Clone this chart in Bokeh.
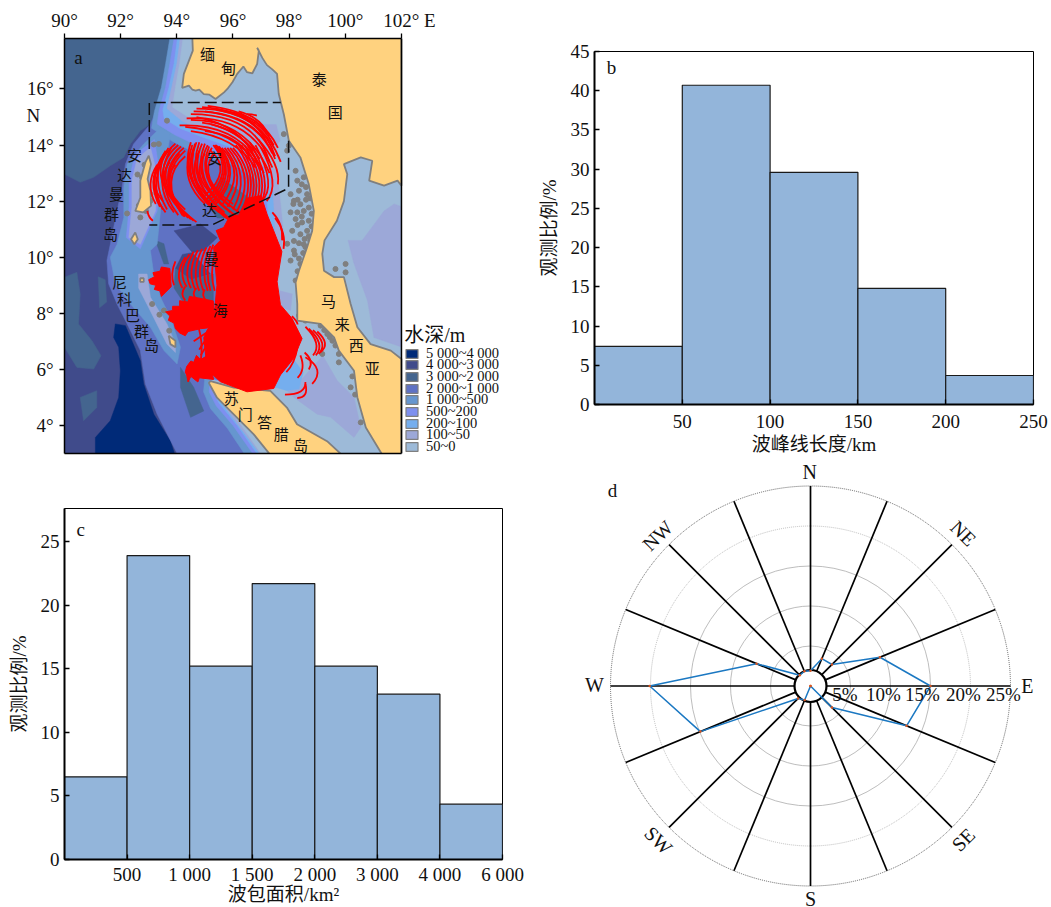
import math
from bokeh.plotting import figure
from bokeh.layouts import row, column
from bokeh.models import Range1d, FixedTicker, Label, Legend, LegendItem, Span, LinearAxis, BoxAnnotation
from bokeh.embed import file_html
from bokeh.resources import INLINE
from bokeh.core.properties import value

SERIF = "Liberation Serif, Noto Sans CJK SC"
CJK = "Noto Sans CJK SC"

# ---------- panel b
b_edges = [0, 50, 100, 150, 200, 250]
b_values = [7.4, 40.7, 29.6, 14.8, 3.7]
# ---------- panel c
c_labels = ["500", "1 000", "1 500", "2 000", "3 000", "4 000", "6 000"]
c_values = [6.5, 23.9, 15.2, 21.7, 15.2, 13.0, 4.35]
# ---------- panel d
rose_dirs = [0, 22.5, 45, 67.5, 90, 112.5, 135, 157.5, 180, 202.5, 225, 247.5, 270, 292.5, 315, 337.5]
rose_vals = [1.9, 3.7, 3.8, 9.4, 15.0, 13.0, 3.8, 0, 0, 1.9, 2.2, 14.9, 20.1, 7.3, 1.9, 2.0]
rose_rings = [5, 10, 15, 20, 25]
# ---------- panel a
depth_labels = ["5 000~4 000", "4 000~3 000", "3 000~2 000", "2 000~1 000", "1 000~500",
                "500~200", "200~100", "100~50", "50~0"]
depth_colors = ["#002A78", "#404B8B", "#44658F", "#5F72C4", "#6696CF", "#7E90EF", "#75AEEE", "#9CA8D8", "#9DBAD8"]
C5000, C4000, C3000, C2000, C1000, C500, C200, C100, C50 = depth_colors
LAND = "#FFD27F"
COAST = "#7F7F7F"

nw_deep = [(90, 17.8), (93.83, 17.8), (93.77, 17.37), (93.54, 16.54), (93.42, 15.58), (93.06, 14.75), (92.7, 14.51),
           (92.35, 14.04), (92.11, 13.56), (91.63, 13.26), (91.04, 12.85), (90.56, 12.67), (90, 12.96)]
w_blob1 = [(90, 9.29), (90.44, 9.46), (90.56, 8.69), (90.5, 7.62), (90.98, 7.02), (91.3, 6.49), (91.04, 6.01),
           (90.44, 6.07), (90, 6.79)]
w_blob2 = [(90.56, 5.0), (91.15, 5.24), (91.15, 4.64), (90.68, 4.17)]
w_blob3 = [(91.2, 9.3), (91.45, 9.2), (91.5, 8.4), (91.25, 8.2)]
trench = [(91.81, 7.62), (92.17, 7.56), (92.4, 7.02), (92.7, 6.31), (92.82, 5.48), (93.18, 4.4), (93.77, 3.45),
          (93.95, 2.9), (91.1, 2.9), (91.1, 3.57), (91.63, 4.17), (91.93, 5.0), (91.99, 5.95), (91.93, 6.79), (91.75, 7.14)]
ridge = [(93.42, 15.58), (93.06, 14.75), (92.46, 14.04), (92.17, 13.32), (92.05, 12.49), (91.87, 11.65), (91.63, 10.46),
         (91.51, 9.88), (91.57, 9.05), (91.87, 8.33), (92.23, 7.62), (92.7, 6.67), (92.88, 5.48), (93.3, 4.4),
         (94.01, 3.0), (102, 3), (102, 17.8), (93.83, 17.8)]
band1000 = [(93.75, 17.8), (93.6, 16.9), (93.45, 16.06), (93.2, 15.2), (93.1, 14.6), (93.9, 14.1), (94.9, 13.6), (96, 13.3),
            (96.8, 12.8), (96.9, 11), (96.8, 9), (96.9, 7.5), (97.2, 6.1), (96.6, 5.4), (95.4, 5.5), (95.0, 5.75), (94.95, 5.2),
            (95.2, 4.6), (95.8, 3.9), (96.4, 3), (102, 3), (102, 17.8)]
band500 = [(93.9, 17.8), (93.75, 16.9), (93.6, 16.06), (93.36, 15.2), (93.3, 14.75), (93.95, 14.35), (94.9, 13.9), (96, 13.6),
           (97, 13), (97.1, 11), (97, 9), (97.1, 7.5), (97.4, 6.2), (96.6, 5.55), (95.45, 5.6), (95.2, 5.7), (95.15, 5.2),
           (95.4, 4.7), (96, 4), (96.7, 3), (102, 3), (102, 17.8)]
band200 = [(94.02, 17.8), (93.9, 16.9), (93.72, 16.06), (93.5, 15.25), (93.55, 14.95), (94.1, 14.6), (95, 14.25), (96, 13.9),
           (97.1, 13.3), (97.3, 11), (97.2, 9), (97.3, 7.5), (97.55, 6.5), (97.4, 5.5), (96.4, 5.5), (95.3, 5.62), (95.25, 5.3),
           (95.5, 4.8), (96.15, 4), (96.85, 3), (102, 3), (102, 17.8)]
band100 = [(94.12, 17.8), (94, 16.9), (93.82, 16.06), (93.65, 15.3), (94.2, 14.85), (95, 14.5), (96.2, 14.2), (96.6, 13.6),
           (97.4, 13), (97.5, 11), (97.4, 9), (97.5, 7.5), (97.7, 6.6), (97.6, 5.4), (96.4, 5.4), (95.3, 5.6), (95.35, 5.2),
           (95.6, 4.8), (96.2, 4), (96.95, 3), (102, 3), (102, 17.8)]
band50 = [(94.22, 17.8), (94.1, 16.9), (93.95, 16.06), (93.85, 15.35), (94.4, 15), (95, 14.75), (96.4, 14.6), (96.95, 14.75),
          (97.55, 14.75), (97.7, 14.15), (97.2, 13.55), (97.6, 13), (97.8, 11), (97.6, 9), (97.7, 7.5), (97.9, 6.7), (97.9, 5.35),
          (97.3, 5.3), (96, 5.45), (95.25, 5.62), (95.4, 5.2), (95.7, 4.8), (96.3, 4), (97, 3), (102, 3), (102, 17.8)]
gulf100 = [(100.1, 10.6), (100.6, 10.6), (101.38, 11.65), (101.74, 11.9), (102, 11.8), (102, 6.8), (101.02, 7.14), (100.79, 8.45), (100.3, 9.8)]
malacca100 = [(98.4, 5.6), (99.2, 6.49), (99.71, 5.6), (100.31, 5.0), (100.55, 3.93), (100.31, 3.57), (99.48, 4.29), (99, 4.4),
              (98.17, 5), (97.93, 5.24)]
patch100 = [(97.63, 8.81), (98.11, 8.69), (98.05, 8.1), (97.75, 8.2)]
patch200 = [(98.2, 6.3), (98.5, 5.9), (98.35, 5.3), (97.9, 5.25), (97.4, 5.4), (97.4, 6.3)]
chain1000 = [(93.42, 14.63), (92.82, 14.04), (92.23, 13.32), (92.11, 12.49), (92.11, 11.42), (91.87, 10.46), (91.63, 10.0),
             (91.81, 9.05), (92.35, 8.33), (93.06, 7.5), (93.54, 6.67), (94.01, 6.19), (94.13, 6.79), (93.77, 7.86), (93.42, 8.57),
             (93.18, 9.4), (93.06, 10.24), (93.3, 10.46), (93.42, 11.65), (93.54, 12.96), (93.77, 14.39)]
chain200 = [(93.2, 14.2), (92.5, 13.65), (92.3, 12.73), (92.3, 11.77), (92.2, 10.7), (92.7, 10.3), (93.3, 11.65), (93.4, 12.96)]
chain50 = [(93.06, 13.92), (92.58, 13.5), (92.4, 12.73), (92.4, 11.77), (92.29, 10.7), (92.7, 10.46), (93.24, 11.65), (93.3, 12.96)]
nicobar100 = [(92.64, 9.4), (92.94, 9.4), (93.06, 8.57), (93.65, 7.62), (93.95, 6.9), (93.95, 6.6), (93.65, 6.9), (93, 8.2), (92.64, 8.9)]
strip3000a = [(94.13, 6.07), (94.6, 5.36), (94.96, 4.52), (94.49, 4.29), (94.13, 5.36)]
strip3000b = [(93.24, 10.6), (93.54, 10.48), (93.71, 9.76), (93.54, 9.76)]
basin3000 = [(95.56, 12.85), (96.87, 11.9), (96.87, 11.4), (95.44, 11.4), (95, 12)]
basin4000 = [(93.9, 10.94), (94.85, 11.18), (95.44, 10.7), (94.96, 10.24), (94.2, 10.1), (93.95, 9.6), (94.5, 9.2), (95.2, 9.4)]
basin3000b = [(93.95, 9.6), (94.5, 9.2), (95.3, 9.4), (95.3, 7.5), (94.3, 8.3), (93.9, 8.9)]
land_main = [(94.55, 17.9), (94.57, 17.37), (94.25, 16.54), (94.19, 16.04), (94.43, 16.12), (94.55, 15.98), (94.67, 15.94), (94.8, 15.98), (94.96, 15.82),
             (95.15, 15.8), (95.38, 15.64), (95.68, 15.88), (95.8, 16.0), (95.98, 16.24), (96.15, 16.54), (96.37, 16.8), (96.5, 16.6), (96.69, 16.56),
             (96.86, 16.89), (96.92, 17.37), (96.86, 17.47), (97.05, 17.1), (97.21, 16.85), (97.4, 16.7), (97.57, 16.54), (97.63, 15.82), (97.81, 15.1),
             (97.99, 14.15), (98.4, 13.56), (98.7, 12.6), (98.88, 11.65), (98.82, 10.94), (98.64, 10.36), (98.35, 9.52),
             (98.23, 9.1), (98.29, 8.33), (98.29, 7.74), (99.12, 7.62), (99.6, 7.14), (99.77, 6.67), (100.31, 5.95), (100.43, 5.0),
             (100.73, 3.93), (101.32, 2.95), (102, 2.95), (102, 6.37), (101.62, 6.67), (100.9, 6.9), (100.43, 7.5),
             (100.19, 8.33), (99.95, 9.29), (99.6, 9.29), (99.24, 9.52), (99.18, 10.12), (99.26, 10.6), (99.7, 11.3), (99.95, 12.0),
             (100.07, 12.96), (99.95, 13.32), (100.55, 13.56), (100.96, 13.44), (100.85, 12.73), (101.38, 12.55), (101.86, 12.73),
             (102, 12.55), (102, 17.9)]
land_sumatra = [(95.2, 5.58), (96.03, 5.35), (97.33, 5.23), (97.92, 4.64), (98.28, 4.04), (99.35, 3.44), (99.88, 2.95), (97.33, 2.95),
                (96.74, 3.68), (95.43, 4.99), (95.14, 5.52)]
land_andaman = [(93, 13.62), (93.08, 13.32), (92.96, 12.79), (93.06, 12.37), (93.08, 11.83), (92.8, 11.6), (92.52, 11.65), (92.7, 12.13),
                (92.7, 12.73), (92.88, 13.38)]
land_little = [(92.52, 10.88), (92.61, 10.64), (92.49, 10.46), (92.37, 10.64)]
land_nicobar = [(93.71, 7.2), (93.95, 7.02), (93.95, 6.79), (93.77, 6.9)]
land_car = [(92.7, 9.25), (92.82, 9.25), (92.82, 9.12), (92.7, 9.12)]
islet_lon = [97.81, 97.99, 97.93, 98.23, 98.29, 98.52, 98.35, 98.05, 98.64, 98.17, 98.4, 98.7, 98.05, 98.29, 98.52, 98.23, 98.46, 98.7,
             98.11, 98.4, 98.64, 98.17, 98.52, 97.93, 98.17, 98.58, 98.05, 98.4, 98.23, 98.46, 98.35, 98.64, 98.58, 99.12, 99.36, 99.54,
             99.77, 99.77, 99.18, 100.19, 100.55, 100.01, 100.01, 99.65, 92.76, 93.06, 92.23, 93.65, 93.36, 93.18, 92.7, 93.06,
             93.12, 93.38, 93.54, 93.73,
             98.45, 98.6, 98.75, 98.3, 98.15, 98.6, 98.45, 98.3, 98.8, 98.55, 98.35, 98.7, 98.2, 98.5, 98.35, 98.65, 98.3, 98.5, 98.42, 98.55,
             98.75, 98.8, 99.25, 99.45, 99.65, 100.25, 100.35, 92.85, 92.95, 92.6, 92.65, 92.9]
islet_lat = [14.39, 13.98, 13.8, 13.08, 12.73, 12.85, 12.37, 12.25, 12.25, 12.01, 11.89, 11.77, 11.6, 11.6, 11.65, 11.36, 11.24, 11.3,
             10.94, 10.82, 10.94, 10.58, 10.46, 10.48, 10.24, 10.36, 9.88, 9.76, 9.17, 8.1, 7.92, 8.1, 7.74, 7.56, 7.26, 7.02,
             6.55, 6.25, 6.55, 5.36, 4.11, 9.76, 9.46, 9.58, 12.85, 12.01, 11.56, 14.87, 14.04, 14.02, 11.42, 12.25,
             8.33, 7.95, 8.1, 7.38,
             12.6, 12.5, 12.1, 12.05, 11.9, 12.05, 11.45, 11.15, 11.1, 10.65, 10.5, 10.75, 10.1, 10.15, 9.95, 10.0, 9.5, 9.6, 7.85, 7.95,
             10.6, 11.55, 7.4, 7.15, 6.85, 5.75, 5.1, 13.3, 12.45, 12.95, 11.85, 11.65]
box_a = [(93.02, 13.86), (93.02, 15.52), (97.7, 15.52)]
box_b = [(97.98, 14.15), (97.98, 12.46), (95.25, 11.15), (93.02, 11.15)]
red_main = [(97.45, 10.94), (97.21, 11.54), (97, 12.2), (96.5, 12.1), (96.2, 11.5), (95.9, 11.5), (95.67, 11.06), (95.4, 10.95), (95.55, 10.6), (95.31, 10.35), (95.43, 9.0),
            (95.31, 7.7), (95.08, 7.4), (94.96, 7.13), (95.08, 6.0), (95.55, 5.56), (96.5, 5.2), (97.45, 5.32), (97.69, 5.8),
            (98.16, 6.39), (98.46, 7.1), (98.1, 7.82), (97.69, 8.3), (97.57, 9.13), (97.74, 10.2)]
red_lobe_a = [(93.0, 9.2), (93.2, 9.3), (93.15, 9.45), (93.4, 9.5), (93.45, 9.65), (93.75, 9.6), (93.8, 8.95), (93.6, 8.75), (93.45, 8.6),
              (93.4, 8.8), (93.2, 8.85), (93.25, 9.0), (93.05, 9.05)]
red_lobe_c = [(93.6, 8.05), (93.85, 8.1), (93.85, 8.25), (94.1, 8.25), (94.1, 8.45), (94.4, 8.4), (94.45, 8.6), (94.75, 8.55), (95.3, 8.44),
              (95.31, 7.5), (94.84, 7.45), (94.4, 7.35), (94.3, 7.2), (94.1, 7.3), (93.95, 7.45), (93.9, 7.65), (93.7, 7.75), (93.75, 7.9)]
red_lobe_d = [(94.35, 6.1), (94.5, 6.3), (94.6, 6.25), (94.7, 6.5), (94.85, 6.35), (95.1, 6.5), (95.31, 5.64), (94.8, 5.7), (94.75, 5.55),
              (94.5, 5.75), (94.4, 5.55), (94.35, 5.8), (94.3, 5.9)]
red_arcs = [
    (93.95, 14.05, 92.6, 12.9, 94.7, 11.25), (94.05, 14.0, 92.75, 12.9, 94.6, 11.3), (94.15, 13.95, 92.9, 12.9, 94.5, 11.35),
    (94.25, 13.9, 93.05, 12.9, 94.4, 11.4), (94.3, 13.8, 93.2, 12.8, 94.3, 11.45), (94.3, 13.6, 93.35, 12.8, 94.2, 11.5),
    (93.6, 13.8, 92.8, 12.6, 93.6, 11.6), (93.7, 13.9, 92.95, 12.7, 93.5, 11.7), (93.8, 13.9, 93.1, 12.6, 93.9, 11.6),
    (93.3, 13.3, 92.85, 12.6, 93.25, 11.9), (93.35, 13.2, 93.0, 12.6, 93.5, 12.0), (92.95, 11.65, 93.0, 11.4, 93.15, 11.3),
    (93.45, 13.5, 92.9, 12.7, 93.4, 11.8), (93.55, 13.7, 93.05, 12.8, 93.65, 11.7), (93.9, 13.7, 93.15, 12.7, 94.05, 11.5),
    (94.1, 13.7, 93.25, 12.8, 94.25, 11.45), (93.75, 13.4, 93.2, 12.7, 94.1, 11.7), (93.95, 13.3, 93.3, 12.6, 94.3, 11.7),
    (94.5, 14.1, 94.0, 12.6, 95.7, 11.5), (94.7, 14.1, 94.1, 12.6, 95.9, 11.3), (94.9, 14.05, 94.25, 12.6, 96.1, 11.2),
    (95.1, 14.0, 94.4, 12.7, 96.2, 11.4), (95.25, 13.9, 94.55, 12.8, 96.2, 11.6), (95.3, 13.7, 94.7, 12.8, 96, 11.9),
    (94.6, 13.9, 94.2, 12.8, 95.1, 12), (94.8, 13.8, 94.3, 12.8, 95.2, 12.1), (95, 13.7, 94.5, 12.9, 95.3, 12.2),
    (94.55, 14.0, 94.1, 12.8, 95.3, 11.7), (94.65, 14.05, 94.2, 12.7, 95.5, 11.6), (94.8, 14.1, 94.3, 12.7, 95.7, 11.6),
    (95.0, 14.05, 94.45, 12.7, 95.9, 11.6), (95.15, 13.95, 94.65, 12.75, 95.9, 11.8), (94.45, 13.7, 94.15, 12.7, 95.0, 11.9),
    (95.3, 14, 96.1, 13, 95.0, 12), (95.4, 14, 96.2, 13, 95.2, 11.9), (95.5, 13.95, 96.35, 13, 95.4, 11.9), (95.6, 13.9, 96.5, 13, 95.6, 11.85),
    (95.2, 13.8, 96.0, 13.1, 95, 12.2), (95.8, 13.9, 96.65, 12.9, 96, 11.7), (96, 13.9, 96.9, 12.9, 96.3, 11.6), (96.2, 14, 97.1, 12.8, 96.5, 11.6),
    (96.4, 14, 97.3, 12.7, 96.7, 11.7), (96.6, 14.1, 97.5, 12.6, 96.9, 11.8), (96.8, 14, 97.6, 12.5, 97, 12), (97.0, 13.9, 97.7, 12.6, 97.2, 12.0),
    (96.9, 14.2, 97.7, 13.3, 97.6, 12.6), (95.35, 14, 96.15, 13, 95.1, 11.95), (95.45, 13.95, 96.3, 13, 95.3, 11.9), (95.7, 13.9, 96.55, 12.9, 95.8, 11.8),
    (95.9, 13.9, 96.8, 12.9, 96.15, 11.65), (96.1, 14, 97.0, 12.85, 96.4, 11.6), (96.3, 14, 97.2, 12.75, 96.6, 11.65), (96.5, 14.05, 97.4, 12.65, 96.8, 11.75),
    (94.7, 15.3, 97.0, 15.3, 97.7, 13.4), (94.9, 15.35, 97.0, 15.2, 97.5, 13.6), (95.1, 15.4, 97.0, 15.2, 97.6, 13.9), (94.5, 15.1, 96.8, 15.1, 97.3, 13.4),
    (94.35, 14.95, 96.6, 15.1, 97.4, 13.2), (94.5, 14.9, 96.5, 14.9, 97.3, 13.0), (94.1, 14.7, 96.3, 14.8, 97.1, 13.0), (94.3, 14.65, 96.2, 14.5, 97, 13.1),
    (94.7, 15, 96.4, 14.7, 96.9, 13.3), (94.5, 14.5, 96.1, 14.3, 96.8, 13.2), (95.0, 14.5, 96.1, 14.4, 96.6, 13.6), (95.8, 15.2, 96.9, 15, 97.2, 14.4),
    (96.2, 15.2, 97, 15, 97.3, 14.3), (96.5, 15.1, 96.7, 15.1, 96.85, 15.05), (94.6, 15.2, 96.9, 15.2, 97.5, 13.5), (95.0, 15.2, 96.8, 15.0, 97.4, 13.7),
    (95.3, 15.3, 96.9, 15.1, 97.45, 14.0), (95.5, 15.25, 96.8, 15.0, 97.2, 14.1), (94.9, 14.8, 96.3, 14.6, 96.95, 13.5), (95.2, 14.75, 96.2, 14.5, 96.7, 13.8),
    (94.3, 10, 93.9, 9.4, 94.2, 8.9), (94.6, 10.2, 94.2, 9.5, 94.5, 8.9), (94.9, 10.3, 94.5, 9.5, 94.8, 8.8), (95.2, 10.4, 94.8, 9.6, 95.1, 8.8),
    (94.45, 10.1, 94, 9.5, 94.35, 8.95), (94.75, 10.25, 94.35, 9.5, 94.65, 8.85), (95.05, 10.35, 94.65, 9.5, 94.95, 8.8),
    (95.3, 10.45, 94.95, 9.6, 95.2, 8.8), (95.5, 10.5, 95.1, 9.6, 95.35, 8.8), (93.95, 9.85, 93.75, 9.4, 93.9, 9.0),
    (94.3, 8.95, 94.1, 8.7, 94.3, 8.45), (94.7, 8.9, 94.5, 8.7, 94.7, 8.5), (95.0, 8.85, 94.85, 8.65, 95.05, 8.45),
    (94.5, 8.2, 95, 7.2, 94.85, 6.3), (97.4, 11.6, 97.8, 11.2, 97.75, 10.6), (97.5, 11.4, 97.9, 10.9, 97.8, 10.3),
    (95.2, 7.4, 94.9, 7.2, 94.6, 7.0), (95.2, 7.2, 94.95, 7.0, 94.8, 6.7), (95.2, 7.0, 95.0, 6.8, 94.85, 6.5),
    (98.58, 7.52, 99.2, 6.9, 98.85, 6.5), (98.7, 7.45, 99.3, 6.9, 98.95, 6.5), (98.85, 7.4, 99.4, 6.9, 99.05, 6.55), (99, 7.35, 99.5, 6.9, 99.1, 6.6),
    (98.58, 6.43, 99.3, 6.0, 98.82, 5.48), (98.4, 6.5, 98.6, 6, 98.3, 5.7), (97.85, 5.1, 98.6, 5.1, 98.58, 5.55), (98.29, 4.98, 98.7, 5.0, 98.58, 5.48),
    (98.1, 7.9, 98.3, 7.7, 98.3, 7.6), (98.3, 6.8, 98.2, 6.2, 97.9, 5.9), (98.55, 6.6, 98.9, 6.3, 98.7, 6),
]
map_names = ["缅", "甸", "泰", "国", "安", "达", "曼", "群", "岛", "安", "达", "曼", "海", "尼", "科", "巴", "群", "岛",
             "马", "来", "西", "亚", "苏", "门", "答", "腊", "岛"]
map_names_lon = [95.09, 95.84, 99.07, 99.64, 92.49, 92.14, 91.85, 91.67, 91.64, 95.34, 95.16, 95.23, 95.55, 91.96, 92.14, 92.42, 92.74, 93.1,
                 99.4, 99.89, 100.39, 100.96, 95.94, 96.44, 97.12, 97.72, 98.4]
map_names_lat = [17.26, 16.76, 16.37, 15.19, 13.65, 12.94, 12.26, 11.55, 10.83, 13.55, 11.69, 9.94, 8.12, 9.12, 8.51, 7.94, 7.37, 6.9,
                 8.44, 7.65, 6.87, 6.08, 5.0, 4.44, 4.15, 3.73, 3.33]
lon_ticks = [90, 92, 94, 96, 98, 100, 102]
lat_ticks = [4, 6, 8, 10, 12, 14, 16]


def xs(poly):
    return [q[0] for q in poly]


def ys(poly):
    return [q[1] for q in poly]


def style_axes(p):
    p.grid.visible = False
    p.outline_line_color = "black"
    p.outline_line_width = 1
    p.axis.axis_line_width = 2
    p.axis.axis_line_color = "black"
    p.axis.major_tick_in = 5
    p.axis.major_tick_out = 0
    p.axis.minor_tick_line_color = None
    p.axis.major_tick_line_color = "black"
    p.axis.major_tick_line_width = 1.3
    p.axis.major_label_text_font = SERIF
    p.axis.major_label_text_font_size = "19px"
    p.axis.major_label_text_color = "#111111"
    p.axis.axis_label_text_font = SERIF
    p.axis.axis_label_text_font_size = "19px"
    p.axis.axis_label_text_font_style = "normal"
    p.axis.axis_label_text_color = "#111111"


def letter(p, x, y, t):
    p.add_layout(Label(x=x, y=y, text=t, text_font=SERIF, text_font_size="19px", text_align="center",
                       text_baseline="middle", text_color="#111111"))


# ================= panel a: the frame runs on past 102 E so that the depth key stays inside the canvas clip
a = figure(width=532, height=480, output_backend="svg", toolbar_location=None, x_axis_location="above", frame_align=False,
           x_range=Range1d(90, 106.666), y_range=Range1d(3.0, 17.8),
           min_border_left=64, min_border_right=0, min_border_top=38, min_border_bottom=27)
style_axes(a)
a.outline_line_color = None
a.add_layout(BoxAnnotation(left=90, right=102, bottom=3, top=17.8, fill_color=C4000, fill_alpha=1, line_color=None, level="underlay"))
a.xaxis.ticker = FixedTicker(ticks=lon_ticks)
a.xaxis.bounds = (90, 102)
over_x = {v: f"{v}°" for v in lon_ticks}
over_x[102] = "\u2002\u2005\u200a102° E"
a.xaxis.major_label_overrides = over_x
a.yaxis.ticker = FixedTicker(ticks=lat_ticks + [15.04], minor_ticks=lat_ticks)
over_y = {v: f"{v}°" for v in lat_ticks}
over_y[15.04] = "N\u2002\u2009"
a.yaxis.major_label_overrides = over_y
a.xaxis.major_tick_in = 0
a.xaxis.major_tick_out = 5
a.yaxis.major_tick_in = 0
a.yaxis.major_tick_out = 0
a.yaxis.minor_tick_in = 0
a.yaxis.minor_tick_out = 5
a.yaxis.minor_tick_line_color = "black"
a.yaxis.minor_tick_line_width = 1.3
a.yaxis.major_label_standoff = 6
a.xaxis.major_label_standoff = 3
a.axis.axis_line_width = 1.5


def fill(poly, color):
    return a.patch(xs(poly), ys(poly), fill_color=color, line_color=color, line_width=0.5)


fill(nw_deep, C3000)
for blob in (w_blob1, w_blob2, w_blob3):
    fill(blob, C3000)
fill(trench, C5000)
fill(ridge, C2000)
fill(basin4000, C4000)
fill(basin3000, C3000)
fill(basin3000b, C3000)
fill(strip3000a, C3000)
fill(strip3000b, C3000)
fill(band1000, C1000)
fill(band500, C500)
fill(band200, C200)
fill(band100, C100)
fill(band50, C50)
fill(gulf100, C100)
fill(malacca100, C100)
fill(patch100, C100)
fill(patch200, C200)
fill(chain1000, C1000)
fill(chain200, C500)
fill(chain50, C100)
fill(nicobar100, C100)
a.scatter(islet_lon, islet_lat, size=5, marker="circle", fill_color=COAST, line_color=COAST)
for poly in (land_main, land_sumatra, land_andaman, land_little, land_nicobar, land_car):
    a.patch(xs(poly), ys(poly), fill_color=LAND, line_color=COAST, line_width=1.8)
for poly in (red_main, red_lobe_a, red_lobe_c, red_lobe_d):
    a.patch(xs(poly), ys(poly), fill_color="#FF0000", line_color="#FF0000", line_width=1)
x0, y0, cx, cy, x1, y1 = zip(*red_arcs)
a.quadratic(x0=list(x0), y0=list(y0), x1=list(x1), y1=list(y1), cx=list(cx), cy=list(cy), line_color="#FF0000", line_width=1.8)
for seg in (box_a, box_b):
    a.line(xs(seg), ys(seg), line_color="#111111", line_width=1.5, line_dash="12 5")
a.text(map_names_lon, map_names_lat, text=map_names, text_font=value(CJK), text_font_size="15px", text_align="center",
       text_baseline="middle", text_color="#111111")
letter(a, 90.5, 17.12, "a")
a.add_layout(Span(location=102, dimension="height", line_color="black", line_width=1.5))
bottom_line = LinearAxis(bounds=(90, 102), ticker=FixedTicker(ticks=[]), axis_line_color="black", axis_line_width=1.5,
                         major_tick_line_color=None, minor_tick_line_color=None, major_label_text_font_size="0px")
a.add_layout(bottom_line, "below")
a.add_layout(Label(x=102.1, y=7.22, text="水深/m", text_font=SERIF, text_font_size="20px", text_align="left", text_baseline="middle", text_color="#111111"))
nan = float("nan")
for i, (lab, col) in enumerate(zip(depth_labels, depth_colors)):
    r = a.quad(left=[nan], right=[nan], top=[nan], bottom=[nan], fill_color=col, line_color=COAST, line_width=1.2)
    a.add_layout(Legend(items=[LegendItem(label=lab, renderers=[r])], location=(340, 91.5 - i * 11.7), orientation="vertical",
                        background_fill_alpha=0, border_line_color=None, glyph_width=15, glyph_height=11, label_height=11,
                        label_standoff=7, padding=0, margin=0, spacing=0, label_text_font=SERIF, label_text_font_size="14.5px",
                        label_text_color="#111111"))

# ================= panel b
b = figure(width=516, height=460, output_backend="svg", toolbar_location=None, frame_align=False,
           x_range=Range1d(0, 250), y_range=Range1d(0, 45),
           min_border_left=62, min_border_right=15, min_border_top=51, min_border_bottom=56)
style_axes(b)
b.quad(left=b_edges[:-1], right=b_edges[1:], bottom=0, top=b_values, fill_color="#93B5DA", line_color="#1a1a1a", line_width=1.2)
b.xaxis.ticker = FixedTicker(ticks=b_edges[1:])
b.yaxis.ticker = FixedTicker(ticks=list(range(0, 50, 5)))
b.xaxis.axis_label = "波峰线长度/km"
b.yaxis.axis_label = "观测比例/%"
b.yaxis.axis_label_standoff = 8
b.xaxis.major_label_standoff = 10
b.xaxis.axis_label_standoff = 3
letter(b, 9.7, 43, "b")

# ================= panel c
c = figure(width=532, height=427, output_backend="svg", toolbar_location=None, frame_align=False,
           x_range=Range1d(0, 7), y_range=Range1d(0, 27.6),
           min_border_left=64, min_border_right=30, min_border_top=28, min_border_bottom=48)
style_axes(c)
pos = list(range(len(c_values)))
c.quad(left=pos, right=[q + 1 for q in pos], bottom=0, top=c_values, fill_color="#93B5DA", line_color="#1a1a1a", line_width=1.2)
c.xaxis.ticker = FixedTicker(ticks=[q + 1 for q in pos])
c.xaxis.major_label_overrides = {q + 1: c_labels[q] for q in pos}
c.yaxis.ticker = FixedTicker(ticks=[0, 5, 10, 15, 20, 25])
c.xaxis.axis_label = "波包面积/km²"
c.yaxis.axis_label = "观测比例/%"
c.yaxis.axis_label_standoff = 8
c.xaxis.major_label_standoff = 4
c.xaxis.axis_label_standoff = -4
c.xaxis.axis_label_text_line_height = 1.0
letter(c, 0.26, 25.95, "c")

# ================= panel d
d = figure(width=516, height=447, output_backend="svg", toolbar_location=None, frame_align=False,
           x_range=Range1d(-34.75, 29.75), y_range=Range1d(-27.69, 28.19),
           min_border_left=0, min_border_right=0, min_border_top=0, min_border_bottom=0)
d.axis.visible = False
d.grid.visible = False
d.outline_line_color = None
for rr in rose_rings:
    dotted = rr >= 20
    d.circle([0], [0], radius=rr, fill_color=None, line_color="#555555" if rr == 25 else "#b5b5b5", line_width=0.9,
             line_dash="1 1" if dotted else "solid")
sp_x0, sp_y0, sp_x1, sp_y1 = [], [], [], []
for deg in rose_dirs:
    t = math.radians(deg)
    sp_x0.append(2 * math.sin(t))
    sp_y0.append(2 * math.cos(t))
    sp_x1.append(rose_rings[-1] * math.sin(t))
    sp_y1.append(rose_rings[-1] * math.cos(t))
d.segment(sp_x0, sp_y0, sp_x1, sp_y1, line_color="#000000", line_width=1.7)
d.circle([0], [0], radius=2, fill_color="white", line_color="black", line_width=2.2)
rx = [v * math.sin(math.radians(a_)) for a_, v in zip(rose_dirs, rose_vals)]
ry = [v * math.cos(math.radians(a_)) for a_, v in zip(rose_dirs, rose_vals)]
d.line(rx + rx[:1], ry + ry[:1], line_color="#1B78C2", line_width=1.5)
d.scatter(rx, ry, size=2.5, fill_color="#D9541E", line_color=None)
ring_txt = ["5%", "10%", "15%", "20%", "25%"]
ring_txt_x = [4.3, 9.1, 14, 19.1, 24.1]
d.text(ring_txt_x, [-1.06] * 5, text=ring_txt, text_font=value(SERIF), text_font_size="19px", text_align="center", text_baseline="middle", text_color="#111111")
comp_txt = ["N", "S", "E", "W", "NE", "NW", "SW", "SE"]
comp_x = [-0.1, 0, 27.1, -27, 19.1, -19.1, -19, 19.1]
comp_y = [26.8, -26.6, 0, 0.1, 19.1, 18.8, -19.3, -19.2]
comp_ang = [0, 0, 0, 0, -45, 45, -45, 45]
d.text(comp_x, comp_y, text=comp_txt, angle=comp_ang, angle_units="deg", text_font=value(SERIF), text_font_size="20px",
       text_align="center", text_baseline="middle", text_color="#111111")
letter(d, -24.75, 24.44, "d")

layout = row(column(a, c, spacing=0), column(b, d, spacing=0), spacing=0)
open("out.html", "w").write(file_html(layout, INLINE))
